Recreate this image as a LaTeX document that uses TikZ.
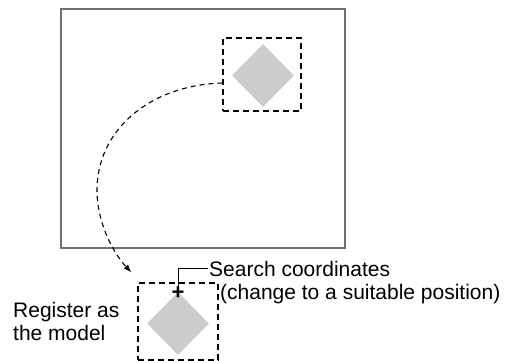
\documentclass[tikz,border=0pt]{standalone}
\usepackage{fontspec}
\setmainfont{Liberation Sans}
\usetikzlibrary{arrows.meta,positioning,shapes.geometric}
\definecolor{framegray}{HTML}{707070}
\definecolor{partgray}{HTML}{CCCCCC}

\begin{document}
\begin{tikzpicture}[x=1pt, y=-1pt, font=\fontsize{21}{23}\selectfont,
  frame/.style={draw=framegray, line width=2pt},
  window/.style={draw=black, line width=1.2pt, dash pattern=on 6pt off 4pt, inner sep=0pt},
  part/.style={diamond, fill=partgray, inner sep=0pt, minimum width=62pt, minimum height=63pt},
  arr/.style={-{Latex[length=8pt,width=6pt]}, line width=1.1pt, dash pattern=on 5pt off 4pt},
  lbl/.style={anchor=base west, inner sep=0pt}]
\useasboundingbox (0,0) rectangle (506,361);
% camera image
\draw[frame] (61,9) rectangle (345,248);
\node[window, minimum width=78pt, minimum height=73pt] (srcwin) at (262,74.5) {};
\node[part] (srcpart) at (263,75.5) {};
% registered model
\node[window, minimum width=80pt, minimum height=77pt] (modelwin) at (178,321.5) {};
\node[part] (modelpart) at (178,323.5) {};
\node[inner sep=0pt, font=\fontsize{22}{23}\selectfont\bfseries] (origin) at (178,293) {+};
\coordinate[xshift=-6pt, yshift=10pt] (tip) at (modelwin.north west);
\draw[arr] ([yshift=-8.5pt]srcwin.west) .. controls (150,85) and (97,130) .. (97,190)
  .. controls (97,225) and (115,255) .. (tip);
% labels
\node[lbl, inner sep=1.5pt] (search) at (207.5,276) {Search coordinates};
\node[lbl] (hint) at (220,299) {(change to a suitable position)};
\node[anchor=west, align=left, inner sep=0pt] (reglabel) at (13,321) {Register as\\the model};
\draw[line width=0.9pt] (origin.north) |- (search.west);
\end{tikzpicture}
\end{document}
